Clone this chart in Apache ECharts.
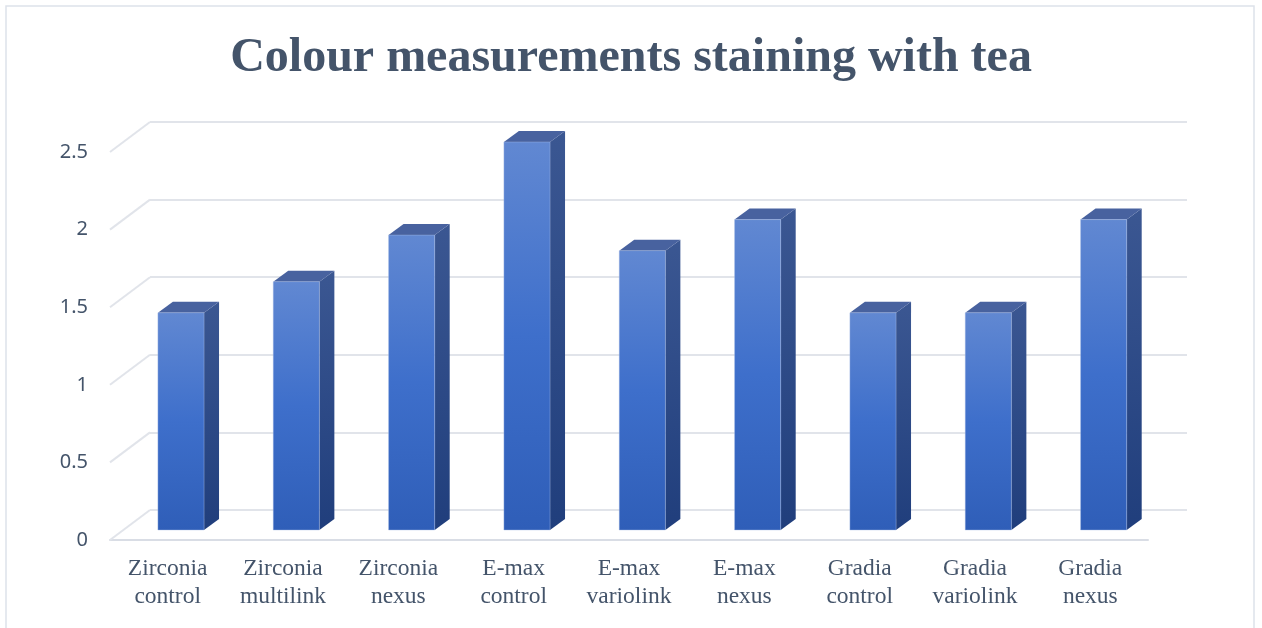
<!DOCTYPE html>
<html><head><meta charset="utf-8">
<script src="https://cdn.jsdelivr.net/npm/echarts@6/dist/echarts.min.js"></script>
<style>html,body{margin:0;padding:0;background:#fff}#c{width:1262px;height:628px}</style>
</head><body><div id="c"></div>
<script>
var categories = ['Zirconia\ncontrol','Zirconia\nmultilink','Zirconia\nnexus','E-max\ncontrol','E-max\nvariolink','E-max\nnexus','Gradia\ncontrol','Gradia\nvariolink','Gradia\nnexus'];
var values = [1.4, 1.6, 1.9, 2.5, 1.8, 2.0, 1.4, 1.4, 2.0];
var yTicks = [0, 0.5, 1, 1.5, 2, 2.5];

var WALL_DX = 40, WALL_DY = 30;     // depth of the back wall
var BAR_OFF_X = 13.3, BAR_OFF_Y = 10; // bar front face offset from front plane
var BAR_DX = 15, BAR_DY = 11;       // bar depth
var BAR_RATIO = 0.4;

var chart = echarts.init(document.getElementById('c'));
var labelColor = '#44546a';
chart.setOption({
  animation: false,
  backgroundColor: '#fff',
  title: {
    text: 'Colour measurements staining with tea',
    left: 'center', top: 30,
    textStyle: {fontFamily: 'Liberation Serif', fontWeight: 'bold', fontSize: 48, color: labelColor}
  },
  graphic: [{
    type: 'rect', silent: true, z: -10,
    shape: {x: 6, y: 6, width: 1248, height: 650},
    style: {fill: 'none', stroke: '#dde2ea', lineWidth: 1.5}
  }],
  grid: [
    {left: 110, right: 114, top: 152, bottom: 88},
    {left: 150, right: 75, top: 122, bottom: 118}
  ],
  xAxis: [
    {type: 'category', gridIndex: 0, data: categories, boundaryGap: true,
     axisLine: {show: true, lineStyle: {color: '#d9dde5', width: 2}},
     axisTick: {show: false},
     axisLabel: {interval: 0, margin: 15, fontFamily: 'Liberation Serif', fontSize: 23.5, lineHeight: 28, color: labelColor}},
    {type: 'category', gridIndex: 1, data: categories, show: false}
  ],
  yAxis: [
    {type: 'value', gridIndex: 0, min: 0, max: 2.5, interval: 0.5,
     axisLine: {show: false}, axisTick: {show: false}, splitLine: {show: false},
     axisLabel: {margin: 22, fontFamily: 'Noto Sans', fontSize: 20, color: labelColor}},
    {type: 'value', gridIndex: 1, min: 0, max: 2.5, interval: 0.5,
     axisLine: {show: false}, axisTick: {show: false}, axisLabel: {show: false},
     splitLine: {show: true, lineStyle: {color: '#e1e4ea', width: 2}}}
  ],
  series: [
    {
      type: 'custom', xAxisIndex: 0, yAxisIndex: 0, silent: true, z: 1,
      data: yTicks.map(function (t) { return [0, t]; }),
      renderItem: function (params, api) {
        var p = api.coord([0, api.value(1)]);
        var bw = api.size([1, 0])[0];
        var x0 = p[0] - bw / 2;
        return {type: 'line', shape: {x1: x0, y1: p[1], x2: x0 + WALL_DX, y2: p[1] - WALL_DY},
                style: {stroke: '#e1e4ea', lineWidth: 2}};
      }
    },
    {
      type: 'custom', xAxisIndex: 0, yAxisIndex: 0, silent: true, z: 5,
      data: values.map(function (v, i) { return [i, v]; }),
      renderItem: function (params, api) {
        var top = api.coord([api.value(0), api.value(1)]);
        var base = api.coord([api.value(0), 0]);
        var bw = api.size([1, 0])[0] * BAR_RATIO;
        var xl = top[0] - bw / 2 + BAR_OFF_X, xr = xl + bw;
        var yt = top[1] - BAR_OFF_Y, yb = base[1] - BAR_OFF_Y;
        return {type: 'group', children: [
          {type: 'polygon', shape: {points: [[xr, yt], [xr + BAR_DX, yt - BAR_DY], [xr + BAR_DX, yb - BAR_DY], [xr, yb]]},
           style: {fill: {type: 'linear', x: 0, y: 0, x2: 0, y2: 1, colorStops: [
             {offset: 0, color: '#3b5792'}, {offset: 1, color: '#203e7c'}]}}},
          {type: 'polygon', shape: {points: [[xl, yt], [xl + BAR_DX, yt - BAR_DY], [xr + BAR_DX, yt - BAR_DY], [xr, yt]]},
           style: {fill: '#48629f'}},
          {type: 'rect', shape: {x: xl, y: yt, width: bw, height: yb - yt},
           style: {fill: {type: 'linear', x: 0, y: 0, x2: 0, y2: 1, colorStops: [
             {offset: 0, color: '#6188d2'}, {offset: 0.5, color: '#3e6fcb'}, {offset: 1, color: '#2f5eb8'}]},
             stroke: 'rgba(170,190,230,0.5)', lineWidth: 0.8}}
        ]};
      }
    }
  ]
});
</script>
</body></html>
